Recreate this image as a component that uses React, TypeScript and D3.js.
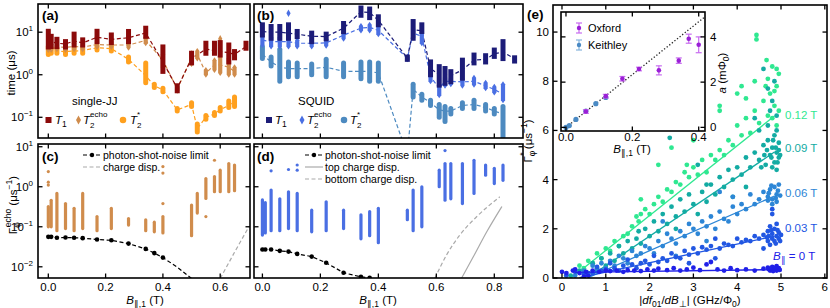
import React from 'react';
import * as d3 from 'd3';

const FONT = '"Liberation Sans", Arial, Helvetica, sans-serif';

// ---- panel (a): single-JJ  [B, lo, hi, median] (µs)
const jjT1 = [
  [0, 4.5, 10.5, 6.8], [0.01, 4.6, 8.0, 6.0], [0.03, 4.6, 6.8, 5.5], [0.06, 4.5, 6.0, 5.3],
  [0.09, 5.0, 9.0, 6.2], [0.12, 5.0, 6.6, 5.6], [0.17, 6.0, 10.5, 7.6], [0.22, 5.7, 8.6, 6.8],
  [0.28, 6.0, 10.4, 7.4], [0.34, 8.0, 12.4, 9.6], [0.40, 1.2, 4.5, 2.0], [0.45, 0.42, 0.55, 0.48],
  [0.50, 1.9, 3.2, 2.4], [0.55, 3.2, 5.5, 4.0], [0.58, 3.2, 5.5, 3.7], [0.60, 2.9, 5.7, 3.5],
  [0.63, 2.0, 5.0, 3.3], [0.65, 2.5, 3.5, 3.0], [0.69, 4.2, 5.5, 4.6],
];
const jjT2e = [
  [0, 3.8, 5.5, 4.5], [0.01, 3.8, 5.2, 4.4], [0.03, 4.0, 5.0, 4.5], [0.06, 3.8, 5.0, 4.4],
  [0.09, 4.0, 5.5, 4.6], [0.12, 4.0, 5.0, 4.5], [0.17, 4.5, 6.0, 5.1], [0.22, 4.5, 6.0, 5.0],
  [0.28, 4.3, 5.8, 5.0], [0.34, 5.5, 7.5, 6.4], [0.40, 1.5, 3.0, 2.2], [0.45, 0.42, 0.52, 0.46],
  [0.50, 1.8, 3.2, 2.5], [0.52, 2.4, 3.6, 3.0], [0.55, 1.0, 1.3, 1.1], [0.58, 1.3, 2.2, 1.7],
  [0.60, 1.1, 2.5, 1.7], [0.63, 1.0, 2.4, 1.5], [0.65, 1.0, 1.5, 1.2],
];
const jjT2eOut = [[0.60, 7.0]];
const jjT2s = [
  [0, 3.0, 4.6, 3.7], [0.01, 3.2, 4.2, 3.6], [0.03, 3.2, 4.2, 3.6], [0.06, 3.0, 4.2, 3.5],
  [0.09, 3.2, 4.2, 3.6], [0.12, 3.2, 4.2, 3.7], [0.17, 3.8, 4.8, 4.3], [0.22, 3.6, 4.6, 4.1],
  [0.28, 2.0, 2.6, 2.3], [0.34, 0.65, 1.9, 0.95], [0.37, 0.5, 0.6, 0.55], [0.40, 0.4, 0.48, 0.44],
  [0.45, 0.14, 0.16, 0.15], [0.50, 0.18, 0.22, 0.2], [0.52, 0.045, 0.07, 0.055], [0.55, 0.09, 0.11, 0.1],
  [0.58, 0.11, 0.13, 0.12], [0.60, 0.14, 0.17, 0.15], [0.63, 0.17, 0.24, 0.19], [0.65, 0.18, 0.3, 0.24],
];

// ---- panel (b): SQUID
const sqT1 = [
  [0, 8.6, 14.9, 10.4], [0.03, 7.2, 13.6, 10], [0.06, 7.2, 13.6, 10], [0.09, 7.2, 14.9, 9.5],
  [0.12, 7.9, 10.4, 9.0], [0.17, 6.0, 9.5, 8.0], [0.22, 7.0, 9.0, 7.9], [0.28, 10.3, 16, 12.4],
  [0.34, 25, 37, 30], [0.37, 22, 35, 29], [0.40, 15, 23, 19], [0.50, 2.3, 2.6, 2.45],
  [0.52, 7.2, 17.8, 11.5], [0.55, 10.4, 14.9, 10.8], [0.58, 1.0, 2.0, 1.4], [0.61, 0.57, 1.55, 1.0],
  [0.63, 0.63, 1.4, 1.0], [0.65, 0.69, 1.18, 0.95], [0.69, 0.83, 2.2, 1.3], [0.73, 1.9, 2.9, 2.2],
  [0.77, 2.0, 2.8, 2.3], [0.80, 2.7, 3.8, 3.1], [0.83, 2.4, 6.0, 3.4], [0.87, 2.1, 2.5, 2.4],
];
const sqT2e = [
  [0, 5, 7.9, 6.5], [0.03, 4.6, 7.5, 6], [0.06, 4.6, 7.5, 6], [0.09, 4.6, 8, 6],
  [0.12, 4.6, 6.5, 5.5], [0.17, 4.6, 6.5, 5.5], [0.22, 4.8, 6.8, 5.6], [0.28, 7, 10, 8.5],
  [0.34, 11, 14, 12.5], [0.37, 11, 15, 13], [0.40, 9, 13, 11], [0.50, 2.3, 2.6, 2.45],
  [0.52, 7.5, 12, 9.5], [0.55, 5.5, 10, 8], [0.58, 0.7, 1.2, 0.9], [0.61, 0.33, 0.6, 0.48],
  [0.63, 0.55, 0.85, 0.7], [0.65, 0.6, 0.8, 0.7], [0.69, 0.55, 0.8, 0.68], [0.73, 0.58, 0.85, 0.7],
  [0.77, 0.48, 0.65, 0.55], [0.80, 0.38, 0.52, 0.45], [0.83, 0.25, 0.6, 0.35],
];
const sqT2eOut = [[0.09, 28]];
const sqT2s = [
  [0, 2.4, 4.6, 3.0], [0.03, 1.6, 2.6, 2.0], [0.06, 0.7, 4.0, 1.5], [0.09, 0.9, 2.0, 1.4],
  [0.12, 0.9, 1.9, 1.4], [0.17, 1.0, 1.8, 1.4], [0.22, 0.9, 2.3, 1.5], [0.28, 0.9, 1.9, 1.2],
  [0.34, 0.8, 2.0, 1.2], [0.37, 0.7, 2.0, 1.2], [0.40, 0.7, 1.9, 1.1], [0.50, 0.0135, 0.0135, 0.0135],
  [0.52, 0.3, 0.6, 0.45], [0.55, 0.25, 0.35, 0.3], [0.58, 0.19, 0.25, 0.22], [0.61, 0.1, 0.2, 0.15],
  [0.63, 0.08, 0.18, 0.14], [0.65, 0.12, 0.16, 0.14], [0.69, 0.16, 0.22, 0.19], [0.73, 0.16, 0.25, 0.2],
  [0.77, 0.14, 0.2, 0.17], [0.80, 0.12, 0.16, 0.14], [0.83, 0.035, 0.18, 0.12],
];

// ---- panel (c): single-JJ echo rate [B, lo, hi] (1/µs)
const jjEcho = [
  [0, 0.1, 0.32], [0.01, 0.1, 0.46], [0.03, 0.08, 0.68], [0.06, 0.09, 0.38], [0.09, 0.08, 0.29],
  [0.12, 0.09, 0.68], [0.17, 0.08, 0.18], [0.22, 0.09, 0.29], [0.28, 0.11, 0.16], [0.34, 0.08, 0.15],
  [0.37, 0.075, 0.13], [0.40, 0.07, 0.18], [0.50, 0.06, 0.35], [0.52, 0.22, 0.68], [0.55, 0.51, 1.6],
  [0.58, 0.75, 1.8], [0.60, 0.75, 2.6], [0.63, 0.75, 3.8], [0.65, 0.8, 3.5],
];
const jjEchoOut = [[0, 2.4], [0, 1.3], [0, 1.1], [0.40, 0.38], [0.40, 2.2], [0.40, 3.2], [0.55, 0.18], [0.58, 4.6]];
const jjShot = [
  [0, 0.056], [0.01, 0.056], [0.03, 0.053], [0.06, 0.054], [0.09, 0.053], [0.12, 0.052],
  [0.17, 0.048], [0.22, 0.046], [0.28, 0.038], [0.34, 0.028], [0.37, 0.022], [0.40, 0.017],
];
const jjShotTail = [[0.40, 0.017], [0.45, 0.0098], [0.50, 0.0051]];
const jjCharge = [[0.6, 0.0051], [0.65, 0.023], [0.70, 0.1]];

// ---- panel (d): SQUID echo rate
const sqEcho = [
  [0, 0.062, 0.47], [0.01, 0.07, 0.4], [0.03, 0.08, 0.83], [0.06, 0.08, 0.5], [0.09, 0.09, 0.75],
  [0.12, 0.08, 0.68], [0.17, 0.075, 0.26], [0.22, 0.08, 0.42], [0.28, 0.09, 0.26], [0.34, 0.05, 0.2],
  [0.37, 0.06, 0.24], [0.40, 0.04, 0.29], [0.50, 0.15, 0.26], [0.52, 0.08, 0.83], [0.55, 0.1, 1.0],
  [0.61, 1.0, 2.6], [0.63, 0.46, 3.8], [0.65, 0.5, 3.8], [0.69, 0.38, 3.8], [0.73, 0.68, 4.6],
  [0.77, 1.95, 3.5], [0.80, 1.2, 2.9], [0.83, 1.45, 3.5],
];
const sqEchoOut = [[0.03, 2.5], [0.09, 2.7], [0.12, 3.5], [0.12, 2.6], [0.63, 8]];
const sqShot = [
  [0, 0.027], [0.01, 0.027], [0.03, 0.027], [0.06, 0.025], [0.09, 0.024], [0.12, 0.021],
  [0.17, 0.018], [0.22, 0.0126], [0.28, 0.0071], [0.34, 0.0056], [0.37, 0.0053],
];
const sqShotTail = [[0.37, 0.0053], [0.40, 0.0045]];
const sqChargeTop = [[0.687, 0.0052], [0.728, 0.018], [0.774, 0.075], [0.826, 0.32]];
const sqChargeBot = [[0.595, 0.0052], [0.635, 0.0196], [0.681, 0.062], [0.739, 0.178], [0.819, 0.56]];

// ---- panel (e): Γφ* vs |df01/dB⊥| for each in-plane field
const fieldColors = ['#2020e8', '#2257e2', '#2d86d6', '#13aba3', '#2fe891'];
const fitSlope = [0.025, 0.38, 0.78, 1.2, 1.42];
const fitIntercept = [0.22, -0.14, -0.45, -0.7, -0.3];
const fitStart = [0.3, 0.4, 0.6, 0.6, 0.22];
const e0 = [
  [0.0, 0.25], [0.1, 0.2], [0.25, 0.3], [0.3, 0.35], [0.4, 0.2], [0.5, 0.05], [0.55, 0.25], [0.6, 0.1],
  [0.7, 0.3], [0.85, 0.25], [1.0, 0.3], [1.1, 0.28], [1.25, 0.3], [1.4, 0.25], [1.5, 0.32], [1.65, 0.3],
  [1.8, 0.28], [1.95, 0.35], [2.1, 0.3], [2.2, 0.38], [2.4, 0.32], [2.55, 0.4], [2.7, 0.3], [2.85, 0.35],
  [3.0, 0.42], [3.15, 0.32], [3.3, 0.55], [3.4, 0.65], [3.55, 0.35], [3.7, 0.3], [3.85, 0.4], [4.0, 0.32],
  [4.2, 0.35], [4.4, 0.3], [4.6, 0.38], [4.7, 0.42], [4.75, 0.3], [4.8, 0.45], [4.85, 0.35], [4.9, 0.48],
  [4.9, 0.3], [4.95, 0.4], [4.72, 0.36], [4.82, 0.28], [4.88, 0.42], [4.97, 0.33],
];
const e03 = [
  [0.1, 0.1], [0.3, 0.25], [0.5, 0.15], [0.7, 0.2], [0.8, 0.45], [0.9, 0.3], [1.0, 0.35], [1.1, 0.6],
  [1.2, 0.4], [1.3, 0.3], [1.4, 0.5], [1.5, 0.75], [1.6, 0.55], [1.7, 0.4], [1.8, 0.6], [1.9, 0.7],
  [2.0, 0.55], [2.1, 0.9], [2.2, 0.65], [2.3, 0.8], [2.4, 0.7], [2.5, 1.0], [2.6, 0.85], [2.7, 0.8],
  [2.8, 1.1], [2.9, 0.95], [2.9, 0.6], [3.0, 1.2], [3.1, 1.0], [3.2, 1.25], [3.3, 1.15], [3.4, 1.3],
  [3.5, 1.6], [3.5, 0.8], [3.6, 1.2], [3.7, 1.4], [3.8, 1.35], [3.9, 1.3], [4.0, 1.6], [4.1, 1.45],
  [4.2, 1.55], [4.3, 1.5], [4.4, 1.7], [4.5, 1.6], [4.6, 1.75], [4.6, 1.2], [4.7, 1.5], [4.7, 1.9],
  [4.75, 2.1], [4.8, 1.6], [4.8, 1.8], [4.8, 2.6], [4.8, 2.8], [4.85, 2.0], [4.85, 1.5], [4.9, 1.7],
  [4.9, 2.2], [4.95, 1.85], [4.95, 1.6], [5.0, 1.75], [4.72, 1.7], [4.78, 1.95], [4.88, 1.4],
  [4.92, 1.95], [4.98, 1.5], [4.75, 1.35], [4.68, 1.65],
];
const e06 = [
  [0.3, 0.1], [0.5, 0.3], [0.6, 0.2], [0.7, 0.5], [0.8, 0.3], [0.9, 0.6], [1.0, 0.4], [1.1, 0.7],
  [1.2, 0.5], [1.3, 0.9], [1.4, 0.8], [1.5, 0.6], [1.6, 1.1], [1.7, 0.9], [1.8, 1.0], [1.9, 1.3],
  [2.0, 1.2], [2.1, 1.0], [2.2, 1.5], [2.3, 1.3], [2.3, 2.3], [2.4, 1.8], [2.5, 1.6], [2.6, 1.4],
  [2.6, 0.9], [2.7, 1.9], [2.8, 1.7], [2.9, 2.2], [3.0, 2.0], [3.1, 1.8], [3.2, 2.3], [3.3, 2.1],
  [3.3, 1.5], [3.4, 2.5], [3.5, 2.0], [3.6, 2.7], [3.6, 3.5], [3.7, 2.4], [3.8, 2.3], [3.9, 2.9],
  [3.9, 3.3], [4.0, 2.6], [4.1, 3.0], [4.2, 2.8], [4.3, 3.4], [4.4, 3.0], [4.5, 3.2], [4.6, 3.5],
  [4.7, 3.3], [4.75, 3.6], [4.8, 3.2], [4.8, 3.0], [4.85, 3.7], [4.9, 3.4], [4.9, 3.1], [4.95, 3.8],
  [4.72, 3.45], [4.78, 3.75], [4.88, 3.25], [4.93, 3.55], [4.98, 3.35], [4.7, 3.15],
];
const e09 = [
  [0.2, 0.1], [0.4, 0.3], [0.6, 0.2], [0.7, 0.6], [0.8, 0.4], [0.9, 0.8], [1.0, 0.5], [1.1, 1.0],
  [1.2, 0.7], [1.3, 1.3], [1.4, 1.0], [1.5, 1.5], [1.6, 1.2], [1.7, 1.6], [1.75, 1.9], [1.8, 1.4],
  [1.9, 2.0], [2.0, 1.7], [2.1, 2.3], [2.2, 1.9], [2.3, 2.6], [2.4, 2.2], [2.5, 2.9], [2.46, 5.7],
  [2.6, 2.5], [2.6, 2.0], [2.7, 3.2], [2.8, 2.7], [2.9, 3.4], [3.0, 3.0], [3.1, 2.6], [3.1, 4.6],
  [3.2, 3.5], [3.3, 3.1], [3.3, 3.8], [3.4, 3.8], [3.5, 3.4], [3.6, 4.1], [3.7, 3.7], [3.8, 4.4],
  [3.9, 4.0], [3.9, 3.3], [4.0, 4.5], [4.1, 4.2], [4.2, 4.9], [4.2, 3.7], [4.3, 4.5], [4.4, 5.1],
  [4.4, 6.5], [4.5, 4.8], [4.5, 6.0], [4.6, 5.4], [4.6, 8.5], [4.65, 4.6], [4.7, 5.6], [4.7, 6.2],
  [4.7, 7.7], [4.75, 5.0], [4.75, 6.8], [4.8, 5.3], [4.8, 7.2], [4.8, 4.5], [4.85, 4.7], [4.85, 5.8],
  [4.85, 8.0], [4.9, 5.1], [4.9, 6.0], [4.9, 6.6], [4.95, 4.9], [4.95, 5.5], [4.9, 4.4], [4.95, 5.2],
  [4.55, 4.5], [4.62, 5.0], [4.78, 4.9], [4.82, 5.6], [4.88, 5.3], [4.92, 4.7], [4.98, 5.0], [4.68, 5.2],
];
const e12 = [
  [0.1, 0.1], [0.3, 0.3], [0.4, 0.5], [0.5, 0.4], [0.6, 0.7], [0.7, 0.6], [0.8, 1.0], [0.9, 0.8],
  [1.0, 1.2], [1.1, 1.1], [1.2, 1.5], [1.3, 1.3], [1.4, 1.7], [1.5, 1.8], [1.6, 2.1], [1.7, 2.5],
  [1.75, 2.3], [1.8, 2.6], [1.8, 3.2], [1.9, 2.8], [2.0, 2.6], [2.1, 3.0], [2.2, 3.3], [2.2, 4.6],
  [2.3, 3.1], [2.4, 3.6], [2.5, 3.5], [2.5, 5.3], [2.6, 3.9], [2.7, 3.8], [2.8, 4.3], [2.85, 4.6],
  [2.9, 4.1], [3.0, 4.5], [3.0, 5.6], [3.0, 6.1], [3.1, 4.2], [3.2, 4.8], [3.3, 4.3], [3.4, 5.0],
  [3.5, 4.8], [3.6, 5.2], [3.6, 6.8], [3.6, 7.0], [3.7, 5.0], [3.8, 5.6], [3.9, 5.4], [4.0, 6.2],
  [4.0, 7.5], [4.1, 5.8], [4.1, 7.8], [4.2, 6.5], [4.2, 7.3], [4.3, 5.9], [4.4, 6.8], [4.4, 8.0],
  [4.44, 9.88], [4.44, 9.7], [4.5, 6.3], [4.6, 7.2], [4.65, 7.8], [4.67, 8.86], [4.7, 6.6], [4.7, 8.1],
  [4.75, 7.5], [4.8, 6.5], [4.8, 8.6], [4.85, 7.0], [4.85, 7.6], [4.9, 6.2], [4.9, 7.8], [4.9, 8.5],
  [4.95, 6.8], [4.95, 8.3],
];
const eGroups = [e0, e03, e06, e09, e12];

// ---- inset: a vs B∥,1  [B, a, err]
const keithley = [[0, 0.0, 0.05], [0.01, 0.08, 0.05], [0.03, 0.35, 0.05], [0.06, 0.72, 0.06], [0.09, 1.05, 0.06], [0.12, 1.32, 0.07]];
const oxford = [
  [0.06, 0.7, 0.08], [0.12, 1.38, 0.08], [0.17, 2.15, 0.1], [0.22, 2.58, 0.08],
  [0.28, 2.52, 0.2], [0.34, 2.95, 0.12], [0.37, 3.92, 0.2], [0.40, 3.65, 0.35],
];
const insetSlope = 11.67;

const C = {
  jjT1: '#8b0a0a', jjT2e: '#d08c4c', jjT2s: '#ffa01e',
  sqT1: '#1c1c78', sqT2e: '#4a6fe3', sqT2s: '#4d8ac0',
  oxford: '#9a1fd6', oxfordErr: '#c86cf0', keith: '#4a8ac4', keithErr: '#86b4dc',
};

type Sc = (v: number) => number;

function Columns({ data, x, y, color, shape, w }: any) {
  return (
    <g fill={color}>
      {data.map((d: number[], i: number) => {
        const cx = x(d[0]);
        const yt = y(d[2]);
        const yb = y(d[1]);
        if (shape === 'diamond') {
          const hw = w * 0.42;
          const h = w * 0.6;
          return <path key={i} d={`M${cx},${yt - h}L${cx + hw},${yt}L${cx + hw},${yb}L${cx},${yb + h}L${cx - hw},${yb}L${cx - hw},${yt}Z`} />;
        }
        return <rect key={i} x={cx - w / 2} y={yt - w / 2} width={w} height={yb - yt + w} rx={shape === 'circle' ? w / 2 : 0} />;
      })}
    </g>
  );
}

function Marker({ shape, cx, cy, color, s }: any) {
  if (shape === 'square') return <rect x={cx - s / 2} y={cy - s / 2} width={s} height={s} fill={color} />;
  if (shape === 'circle') return <circle cx={cx} cy={cy} r={s / 2} fill={color} />;
  return <path d={`M${cx},${cy - s * 0.75}L${cx + s * 0.42},${cy}L${cx},${cy + s * 0.75}L${cx - s * 0.42},${cy}Z`} fill={color} />;
}

function Frame({ x0, x1, y0, y1, xs, ys, xt, yt }: any) {
  const t = 4.5;
  return (
    <g stroke="#000" strokeWidth={1.3}>
      {xt.map((v: number) => (
        <g key={'x' + v}>
          <line x1={xs(v)} x2={xs(v)} y1={y1} y2={y1 - t} />
          <line x1={xs(v)} x2={xs(v)} y1={y0} y2={y0 + t} />
        </g>
      ))}
      {yt.map((v: number) => (
        <g key={'y' + v}>
          <line x1={x0} x2={x0 + t} y1={ys(v)} y2={ys(v)} />
          <line x1={x1} x2={x1 - t} y1={ys(v)} y2={ys(v)} />
        </g>
      ))}
      <rect x={x0} y={y0} width={x1 - x0} height={y1 - y0} fill="none" strokeWidth={1.6} />
    </g>
  );
}

function LogLabels({ x, ys, vals }: any) {
  return (
    <g fontSize={11.5} textAnchor="end">
      {vals.map((e: number) => (
        <text key={e} x={x} y={ys(Math.pow(10, e)) + 4}>
          10<tspan dy={-5} fontSize={8}>{e < 0 ? '\u2212' + -e : e}</tspan>
        </text>
      ))}
    </g>
  );
}

function BLabel({ cx, y }: any) {
  return (
    <text x={cx} y={y} fontSize={11.5} textAnchor="middle">
      <tspan fontStyle="italic">B</tspan>
      <tspan dy={3} fontSize={8.5}>{'\u2225,1'}</tspan>
      <tspan dy={-3}> (T)</tspan>
    </text>
  );
}

// T with stacked subscript "2" and a superscript
function T2Label({ x, y, sup }: any) {
  return (
    <g fontSize={11.5}>
      <text x={x} y={y} fontStyle="italic">T</text>
      <text x={x + 7} y={y + 4} fontSize={8}>2</text>
      <text x={x + 7} y={y - 7} fontSize={8}>{sup}</text>
    </g>
  );
}

export default function App() {
  const xA = d3.scaleLinear().domain([-0.036, 0.704]).range([38, 250]);
  const xB = d3.scaleLinear().domain([-0.029, 0.899]).range([254, 523]);
  const yTop = d3.scaleLog().domain([0.0326, 46]).range([138, 4]);
  const yBot = d3.scaleLog().domain([0.00525, 11.7]).range([278, 144]);
  const xE = d3.scaleLinear().domain([-0.205, 6.05]).range([553, 827]);
  const yE = d3.scaleLinear().domain([0, 11.1]).range([278, 5]);
  const xI = d3.scaleLinear().domain([-0.015, 0.419]).range([561, 705]);
  const yI = d3.scaleLinear().domain([-0.16, 5.1]).range([131, 12]);

  const medLine = (x: Sc, y: Sc) => d3.line<number[]>().x(d => x(d[0])).y(d => y(d[3]));
  const xyLine = (x: Sc, y: Sc) => d3.line<number[]>().x(d => x(d[0])).y(d => y(d[1]));
  const smooth = (x: Sc, y: Sc) => d3.line<number[]>().x(d => x(d[0])).y(d => y(d[1])).curve(d3.curveMonotoneX);

  const decTop = [0.1, 1, 10];
  const decBot = [0.01, 0.1, 1, 10];

  const topPanel = (x: Sc, T1: number[][], T2e: number[][], T2s: number[][], cols: string[], out: number[][]) => (
    <g>
      <g fill="none" strokeWidth={1.2} strokeDasharray="4,2.5">
        <path d={medLine(x, yTop)(T2s) || ''} stroke={cols[2]} />
        <path d={medLine(x, yTop)(T2e) || ''} stroke={cols[1]} />
        <path d={medLine(x, yTop)(T1) || ''} stroke={cols[0]} />
      </g>
      <Columns data={T2s} x={x} y={yTop} color={cols[2]} shape="circle" w={5} />
      <Columns data={T2e} x={x} y={yTop} color={cols[1]} shape="diamond" w={5} />
      {out.map((d, i) => <Marker key={i} shape="diamond" cx={x(d[0])} cy={yTop(d[1])} color={cols[1]} s={5} />)}
      <Columns data={T1} x={x} y={yTop} color={cols[0]} shape="square" w={5} />
    </g>
  );

  const echoPanel = (x: Sc, cols: number[][], out: number[][], color: string) => (
    <g fill={color}>
      {cols.map((d, i) => (
        <rect key={i} x={x(d[0]) - 1.6} y={yBot(d[2]) - 1.6} width={3.2} height={yBot(d[1]) - yBot(d[2]) + 3.2} rx={1.6} />
      ))}
      {out.map((d, i) => <circle key={'o' + i} cx={x(d[0])} cy={yBot(d[1])} r={1.6} />)}
    </g>
  );

  const shotPanel = (x: Sc, pts: number[][], tail: number[][]) => (
    <g>
      <path d={xyLine(x, yBot)(pts.concat(tail.slice(1))) || ''} fill="none" stroke="#000" strokeWidth={1.2} strokeDasharray="4,2.5" />
      {pts.map((d, i) => <circle key={i} cx={x(d[0])} cy={yBot(d[1])} r={2.3} fill="#000" />)}
    </g>
  );

  return (
    <svg width={830} height={308} style={{ position: 'absolute', left: 0, top: 0, fontFamily: FONT }}>
      <defs>
        <clipPath id="cA"><rect x={38} y={4} width={212} height={134} /></clipPath>
        <clipPath id="cB"><rect x={254} y={4} width={269} height={134} /></clipPath>
        <clipPath id="cC"><rect x={38} y={144} width={212} height={134} /></clipPath>
        <clipPath id="cD"><rect x={254} y={144} width={269} height={134} /></clipPath>
        <clipPath id="cE"><rect x={553} y={5} width={274} height={273} /></clipPath>
        <clipPath id="cI"><rect x={561} y={12} width={144} height={119} /></clipPath>
      </defs>
      <rect x={0} y={0} width={830} height={308} fill="#fff" />

      {/* (a) */}
      <g clipPath="url(#cA)">{topPanel(xA, jjT1, jjT2e, jjT2s, [C.jjT1, C.jjT2e, C.jjT2s], jjT2eOut)}</g>
      <Frame x0={38} x1={250} y0={4} y1={138} xs={xA} ys={yTop} xt={[0, 0.2, 0.4, 0.6]} yt={decTop} />
      <LogLabels x={33} ys={yTop} vals={[1, 0, -1]} />
      <text transform="translate(15,73) rotate(-90)" fontSize={11.5} textAnchor="middle">time (μs)</text>
      <text x={42} y={20} fontSize={13.5} fontWeight="bold">(a)</text>
      <text x={72} y={105} fontSize={11.5}>single-JJ</text>
      <Marker shape="square" cx={48.5} cy={120} color={C.jjT1} s={6} />
      <text x={55} y={124} fontSize={11.5}><tspan fontStyle="italic">T</tspan><tspan dy={3} fontSize={8.5}>1</tspan></text>
      <Marker shape="diamond" cx={78.5} cy={120} color={C.jjT2e} s={6} />
      <T2Label x={83} y={124} sup="echo" />
      <Marker shape="circle" cx={123} cy={120} color={C.jjT2s} s={6.5} />
      <T2Label x={130} y={124} sup="*" />

      {/* (b) */}
      <g clipPath="url(#cB)">{topPanel(xB, sqT1, sqT2e, sqT2s, [C.sqT1, C.sqT2e, C.sqT2s], sqT2eOut)}</g>
      <Frame x0={254} x1={523} y0={4} y1={138} xs={xB} ys={yTop} xt={[0, 0.2, 0.4, 0.6, 0.8]} yt={decTop} />
      <text x={257} y={20} fontSize={13.5} fontWeight="bold">(b)</text>
      <text x={298} y={105} fontSize={11.5}>SQUID</text>
      <Marker shape="square" cx={269} cy={120} color={C.sqT1} s={6} />
      <text x={275} y={124} fontSize={11.5}><tspan fontStyle="italic">T</tspan><tspan dy={3} fontSize={8.5}>1</tspan></text>
      <Marker shape="diamond" cx={302} cy={120} color={C.sqT2e} s={6} />
      <T2Label x={307} y={124} sup="echo" />
      <Marker shape="circle" cx={344} cy={120} color={C.sqT2s} s={6.5} />
      <T2Label x={350} y={124} sup="*" />

      {/* (c) */}
      <g clipPath="url(#cC)">
        <path d={smooth(xA, yBot)(jjCharge) || ''} fill="none" stroke="#aaa" strokeWidth={1.2} strokeDasharray="4,2.5" />
        {echoPanel(xA, jjEcho, jjEchoOut, C.jjT2e)}
        {shotPanel(xA, jjShot, jjShotTail)}
      </g>
      <Frame x0={38} x1={250} y0={144} y1={278} xs={xA} ys={yBot} xt={[0, 0.2, 0.4, 0.6]} yt={decBot} />
      <LogLabels x={33} ys={yBot} vals={[1, 0, -1, -2]} />
      <g fontSize={11.5} textAnchor="middle">
        {[0, 0.2, 0.4, 0.6].map(v => <text key={v} x={xA(v)} y={291}>{v.toFixed(1)}</text>)}
      </g>
      <BLabel cx={145} y={304} />
      <text transform="translate(17,205) rotate(-90)" fontSize={11.5} textAnchor="middle">
        Γ<tspan dy={3} fontSize={8.5}>φ</tspan><tspan dx={-5} dy={-9} fontSize={8.5}>echo</tspan>
        <tspan dy={6}> (μs</tspan><tspan dy={-5} fontSize={8.5}>{'\u22121'}</tspan><tspan dy={5}>)</tspan>
      </text>
      <text x={42} y={161} fontSize={13.5} fontWeight="bold">(c)</text>
      <g fontSize={10.5}>
        <line x1={83} x2={101} y1={155} y2={155} stroke="#000" strokeWidth={1.2} strokeDasharray="4,2.5" />
        <circle cx={92} cy={155} r={2.2} fill="#000" />
        <text x={103} y={159}>photon-shot-noise limit</text>
        <line x1={83} x2={101} y1={167} y2={167} stroke="#aaa" strokeWidth={1.2} strokeDasharray="4,2.5" />
        <text x={103} y={171}>charge disp.</text>
      </g>

      {/* (d) */}
      <g clipPath="url(#cD)">
        <path d={smooth(xB, yBot)(sqChargeTop) || ''} fill="none" stroke="#aaa" strokeWidth={1.2} />
        <path d={smooth(xB, yBot)(sqChargeBot) || ''} fill="none" stroke="#aaa" strokeWidth={1.2} strokeDasharray="4,2.5" />
        {echoPanel(xB, sqEcho, sqEchoOut, C.sqT2e)}
        {shotPanel(xB, sqShot, sqShotTail)}
      </g>
      <Frame x0={254} x1={523} y0={144} y1={278} xs={xB} ys={yBot} xt={[0, 0.2, 0.4, 0.6, 0.8]} yt={decBot} />
      <g fontSize={11.5} textAnchor="middle">
        {[0, 0.2, 0.4, 0.6, 0.8].map(v => <text key={v} x={xB(v)} y={291}>{v.toFixed(1)}</text>)}
      </g>
      <BLabel cx={378} y={304} />
      <text x={257} y={161} fontSize={13.5} fontWeight="bold">(d)</text>
      <g fontSize={10.5}>
        <line x1={305} x2={323} y1={155} y2={155} stroke="#000" strokeWidth={1.2} strokeDasharray="4,2.5" />
        <circle cx={314} cy={155} r={2.2} fill="#000" />
        <text x={325} y={159}>photon-shot-noise limit</text>
        <line x1={305} x2={323} y1={167} y2={167} stroke="#aaa" strokeWidth={1.2} />
        <text x={325} y={171}>top charge disp.</text>
        <line x1={305} x2={323} y1={179} y2={179} stroke="#aaa" strokeWidth={1.2} strokeDasharray="4,2.5" />
        <text x={325} y={183}>bottom charge disp.</text>
      </g>

      {/* (e) */}
      <g clipPath="url(#cE)">
        {[4, 3, 2, 1, 0].map(k => (
          <g key={k}>
            {eGroups[k].map((d, i) => <circle key={i} cx={xE(d[0])} cy={yE(d[1])} r={2.4} fill={fieldColors[k]} />)}
            <line x1={xE(fitStart[k])} y1={yE(fitIntercept[k] + fitSlope[k] * fitStart[k])}
              x2={xE(4.85)} y2={yE(fitIntercept[k] + fitSlope[k] * 4.85)}
              stroke={fieldColors[k]} strokeWidth={1.3} />
          </g>
        ))}
      </g>
      <Frame x0={553} x1={827} y0={5} y1={278} xs={xE} ys={yE} xt={[0, 1, 2, 3, 4, 5, 6]} yt={[0, 2, 4, 6, 8, 10]} />
      <g fontSize={11.5}>
        {[0, 1, 2, 3, 4, 5, 6].map(v => <text key={v} x={xE(v)} y={291} textAnchor="middle">{v}</text>)}
        {[0, 2, 4, 6, 8, 10].map(v => <text key={v} x={549} y={yE(v) + 4} textAnchor="end">{v}</text>)}
      </g>
      <text x={690} y={304} fontSize={11.5} textAnchor="middle">
        |<tspan fontStyle="italic">df</tspan><tspan dy={3} fontSize={8.5}>01</tspan>
        <tspan dy={-3}>/</tspan><tspan fontStyle="italic">dB</tspan><tspan dy={3} fontSize={8.5}>⊥</tspan>
        <tspan dy={-3}>| (GHz/Φ</tspan><tspan dy={3} fontSize={8.5}>0</tspan><tspan dy={-3}>)</tspan>
      </text>
      <text transform="translate(532,141) rotate(-90)" fontSize={11.5} textAnchor="middle">
        Γ<tspan dy={3} fontSize={8.5}>φ</tspan><tspan dx={-5} dy={-9} fontSize={8.5}>*</tspan>
        <tspan dy={6}> (μs</tspan><tspan dy={-5} fontSize={8.5}>{'\u22121'}</tspan><tspan dy={5}>)</tspan>
      </text>
      <text x={527} y={19} fontSize={13.5} fontWeight="bold">(e)</text>
      <g fontSize={11.5}>
        <text x={785} y={119} fill={fieldColors[4]}>0.12 T</text>
        <text x={785} y={152} fill={fieldColors[3]}>0.09 T</text>
        <text x={785} y={197} fill={fieldColors[2]}>0.06 T</text>
        <text x={785} y={232} fill={fieldColors[1]}>0.03 T</text>
        <text x={773} y={260} fill={fieldColors[0]}>
          <tspan fontStyle="italic">B</tspan><tspan dy={3} fontSize={8.5}>∥</tspan><tspan dy={-3}> = 0 T</tspan>
        </text>
      </g>

      {/* inset */}
      <rect x={561} y={12} width={144} height={119} fill="#fff" />
      <g clipPath="url(#cI)">
        <line x1={xI(0)} y1={yI(0)} x2={xI(0.44)} y2={yI(insetSlope * 0.44)} stroke="#222" strokeWidth={1.3} strokeDasharray="1.3,2" />
        {keithley.map((d, i) => (
          <g key={'k' + i}>
            <line x1={xI(d[0])} x2={xI(d[0])} y1={yI(d[1] - d[2])} y2={yI(d[1] + d[2])} stroke={C.keithErr} strokeWidth={1.2} />
            <circle cx={xI(d[0])} cy={yI(d[1])} r={2.6} fill={C.keith} />
          </g>
        ))}
        {oxford.map((d, i) => (
          <g key={'o' + i} stroke={C.oxfordErr} strokeWidth={1.2}>
            <line x1={xI(d[0])} x2={xI(d[0])} y1={yI(d[1] - d[2])} y2={yI(d[1] + d[2])} />
            <line x1={xI(d[0]) - 3} x2={xI(d[0]) + 3} y1={yI(d[1] - d[2])} y2={yI(d[1] - d[2])} />
            <line x1={xI(d[0]) - 3} x2={xI(d[0]) + 3} y1={yI(d[1] + d[2])} y2={yI(d[1] + d[2])} />
            <circle cx={xI(d[0])} cy={yI(d[1])} r={2.3} fill={C.oxford} stroke="none" />
          </g>
        ))}
      </g>
      <Frame x0={561} x1={705} y0={12} y1={131} xs={xI} ys={yI} xt={[0, 0.2, 0.4]} yt={[0, 2, 4]} />
      <g fontSize={11.5}>
        {[0, 0.2, 0.4].map(v => <text key={v} x={xI(v)} y={141} textAnchor="middle">{v.toFixed(1)}</text>)}
        {[0, 2, 4].map(v => <text key={v} x={710} y={yI(v) + 4}>{v}</text>)}
      </g>
      <BLabel cx={632} y={153} />
      <text transform="translate(726,73) rotate(-90)" fontSize={11.5} textAnchor="middle">
        <tspan fontStyle="italic">a</tspan> (mΦ<tspan dy={3} fontSize={8.5}>0</tspan><tspan dy={-3}>)</tspan>
      </text>
      <g fontSize={11}>
        <line x1={579} x2={579} y1={23} y2={33} stroke={C.oxfordErr} strokeWidth={1.2} />
        <line x1={576} x2={582} y1={23} y2={23} stroke={C.oxfordErr} strokeWidth={1.2} />
        <line x1={576} x2={582} y1={33} y2={33} stroke={C.oxfordErr} strokeWidth={1.2} />
        <circle cx={579} cy={28} r={2.2} fill={C.oxford} />
        <text x={588} y={32}>Oxford</text>
        <line x1={579} x2={579} y1={40} y2={50} stroke={C.keithErr} strokeWidth={1.2} />
        <line x1={576} x2={582} y1={40} y2={40} stroke={C.keithErr} strokeWidth={1.2} />
        <line x1={576} x2={582} y1={50} y2={50} stroke={C.keithErr} strokeWidth={1.2} />
        <circle cx={579} cy={45} r={2.2} fill={C.keith} />
        <text x={588} y={49}>Keithley</text>
      </g>
    </svg>
  );
}
